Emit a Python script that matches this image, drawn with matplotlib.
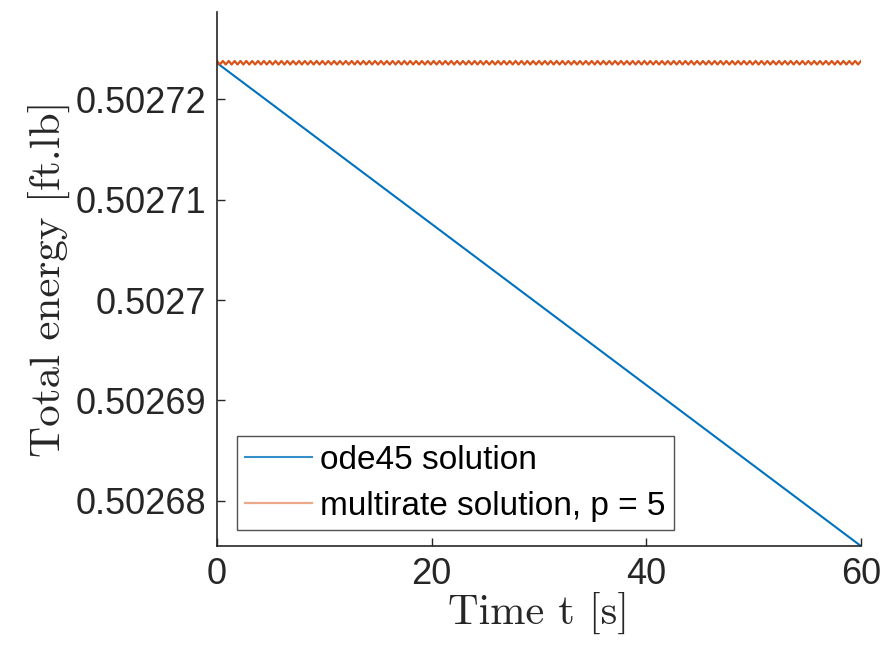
import numpy as np
import matplotlib
matplotlib.use('Agg')
import matplotlib.pyplot as plt

plt.rcParams['font.family'] = ['Liberation Sans', 'DejaVu Sans']

# ode45 solution: straight decay between the end points
ode45_t = [0, 60]
ode45_energy = [0.5027236, 0.5026755]

# multirate solution: oscillates between two levels
multirate_hi = 0.50272380
multirate_lo = 0.50272345
multirate_wiggles = 110

mt = np.linspace(0, 60, 2 * multirate_wiggles + 1)
me = np.where(np.arange(mt.size) % 2 == 0, multirate_hi, multirate_lo)

fig = plt.figure(figsize=(8.84, 6.54), dpi=100)
ax = fig.add_axes([0.2455, 0.165, 0.7285, 0.817])

ax.plot(ode45_t, ode45_energy, color='#0072BD', lw=1.5, label='ode45 solution')
ax.plot(mt, me, color='#D95319', lw=1.6, label='multirate solution, p = 5')

ax.set_xlim(0, 60)
ax.set_ylim(0.5026755, 0.5027287)
ax.set_xticks([0, 20, 40, 60])
ax.set_yticks([0.50268, 0.50269, 0.50270, 0.50271, 0.50272])
ax.set_yticklabels(['0.50268', '0.50269', '0.5027', '0.50271', '0.50272'])

for s in ['top', 'right']:
    ax.spines[s].set_visible(False)
for s in ['left', 'bottom']:
    ax.spines[s].set_color('#262626')
    ax.spines[s].set_linewidth(1.2)
ax.tick_params(direction='in', length=6, width=1, colors='#262626',
               labelsize=26, pad=8)

# LaTeX-looking labels via the Computer Modern font bundled with matplotlib
ax.set_xlabel('Time t [s]', fontsize=30.5, family='cmr10', color='#262626', labelpad=0)
ax.set_ylabel('Total energy [ft.lb]', fontsize=31, family='cmr10', color='#262626', labelpad=4)

leg = ax.legend(loc='lower left', bbox_to_anchor=(0.031, 0.030), fontsize=24,
                frameon=True, fancybox=False, edgecolor='#262626',
                handlelength=2.0, handletextpad=0.25, borderpad=0.25,
                labelspacing=0.45, borderaxespad=0)
leg.get_frame().set_linewidth(1.0)
leg.get_lines()[0].set_alpha(0.8)
leg.get_lines()[1].set_alpha(0.5)

fig.savefig('out.png', dpi=100)
